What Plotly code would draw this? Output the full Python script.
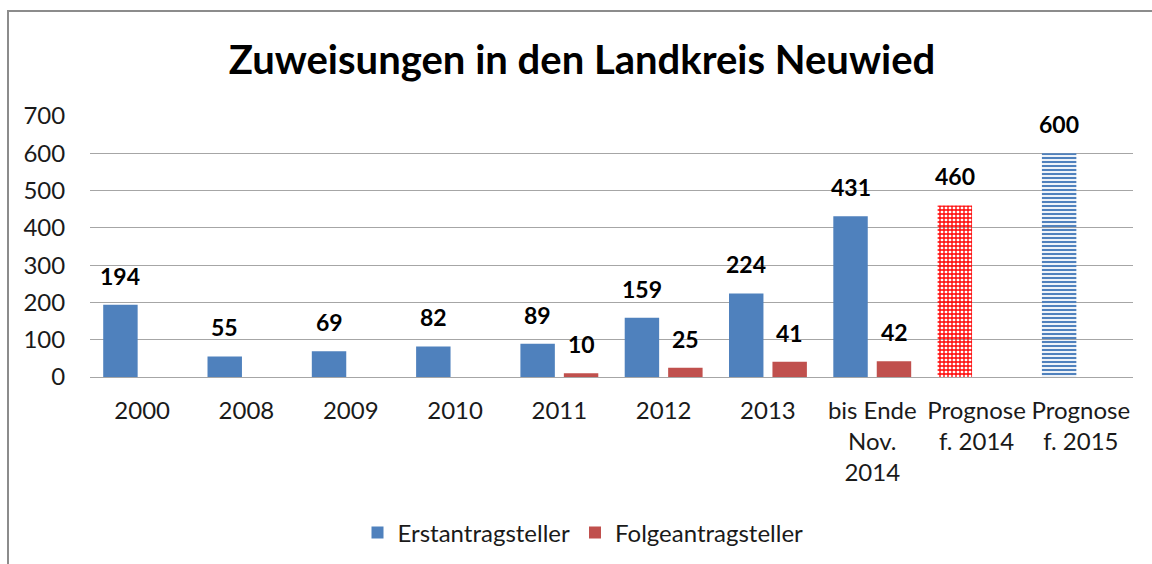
import plotly.graph_objects as go

categories = ["2000", "2008", "2009", "2010", "2011", "2012", "2013",
              "bis Ende<br>Nov.<br>2014", "Prognose<br>f. 2014", "Prognose<br>f. 2015"]
erst = [194, 55, 69, 82, 89, 159, 224, 431, 460, 600]
folge = [None, None, None, None, 10, 25, 41, 42, None, None]
erst_colors = ["#4f81bd"] * 8 + ["#ff0000", "#4f81bd"]
erst_patterns = [""] * 8 + ["+", "-"]
y_ticks = [0, 100, 200, 300, 400, 500, 600, 700]

FONT = "Lato, 'Open Sans', sans-serif"

fig = go.Figure()
fig.add_trace(go.Bar(
    name="Erstantragsteller", x=categories, y=erst,
    marker=dict(color=erst_colors,
                line=dict(width=0),
                pattern=dict(shape=erst_patterns, fgcolor=erst_colors,
                             bgcolor="white", size=4, solidity=0.55,
                             fillmode="replace")),
))
fig.add_trace(go.Bar(
    name="Folgeantragsteller", x=categories, y=folge,
    marker=dict(color="#c0504d", line=dict(width=0)),
))

annotations = []
for i, v in enumerate(erst):
    if v is not None:
        annotations.append(dict(x=i, y=v, text=f"<b>{v}</b>", showarrow=False,
                                xref="x", yref="y", yanchor="bottom", xshift=-21.75,
                                yshift=13, font=dict(size=23, color="black", family=FONT)))
for i, v in enumerate(folge):
    if v is not None:
        annotations.append(dict(x=i, y=v, text=f"<b>{v}</b>", showarrow=False,
                                xref="x", yref="y", yanchor="bottom", xshift=21.75,
                                yshift=13, font=dict(size=23, color="black", family=FONT)))

W, H = 1152, 564
L, R, T, B = 90, 1152 - 1133, 116, 564 - 377
pw, ph = W - L - R, H - T - B

fig.update_layout(
    width=W, height=H,
    margin=dict(l=L, r=R, t=T, b=B, pad=0, autoexpand=False),
    paper_bgcolor="white", plot_bgcolor="white",
    barmode="group", bargap=0.167, bargroupgap=0.207,
    font=dict(family=FONT, size=24, color="#1a1a1a"),
    title=dict(text="<b>Zuweisungen in den Landkreis Neuwied</b>",
               x=582 / W, xanchor="center", y=1 - 60 / H, yanchor="middle",
               font=dict(size=40, color="black", family=FONT)),
    xaxis=dict(type="category", range=[-0.5, 9.5], showgrid=False, zeroline=False,
               showline=False, ticks="outside", ticklen=12, tickcolor="rgba(0,0,0,0)",
               tickfont=dict(size=24, color="#1a1a1a")),
    yaxis=dict(range=[0, 700], tickvals=y_ticks, showgrid=True, gridcolor="#a6a6a6",
               gridwidth=1.3, zeroline=True, zerolinecolor="#a6a6a6", zerolinewidth=1.3,
               showline=False, ticks="outside", ticklen=19, tickcolor="rgba(0,0,0,0)",
               tickfont=dict(size=24, color="#1a1a1a")),
    legend=dict(orientation="h", x=(583 - L) / pw, xanchor="center",
                y=(377 - 533) / ph, yanchor="middle",
                font=dict(size=24, color="#1a1a1a"), traceorder="normal"),
    showlegend=True,
    annotations=annotations,
    shapes=[dict(type="rect", xref="paper", yref="paper",
                 x0=(8 - L) / pw, x1=1.3, y0=-2, y1=(377 - 11) / ph,
                 line=dict(color="#8c8c8c", width=2), fillcolor="rgba(0,0,0,0)",
                 layer="below")],
)

fig.write_html("out.html", config={"displayModeBar": False},
               post_script="document.body.style.margin='0px';")
